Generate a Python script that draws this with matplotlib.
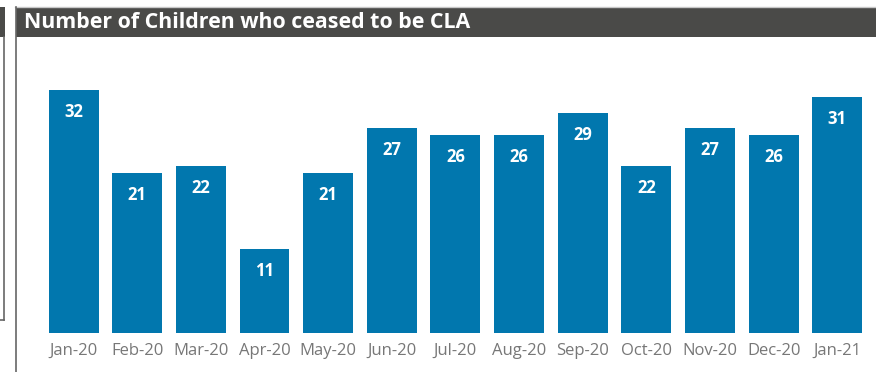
import matplotlib
matplotlib.use("Agg")
import matplotlib.pyplot as plt
from matplotlib.patches import Rectangle
from matplotlib.lines import Line2D

months = ["Jan-20", "Feb-20", "Mar-20", "Apr-20", "May-20", "Jun-20", "Jul-20",
          "Aug-20", "Sep-20", "Oct-20", "Nov-20", "Dec-20", "Jan-21"]
values = [32, 21, 22, 11, 21, 27, 26, 26, 29, 22, 27, 26, 31]
title = "Number of Children who ceased to be CLA"

W, H = 876, 372
fig = plt.figure(figsize=(W / 100, H / 100), dpi=100)
fig.patch.set_facecolor("white")

def fx(px):
    return px / W

def fy(py):
    return 1 - py / H

# neighbouring panel fragment on the left
fig.patches.append(Rectangle((0, fy(37)), fx(4.5), fy(7) - fy(37), transform=fig.transFigure,
                             facecolor="#4a4a48", edgecolor="none"))
fig.lines.append(Line2D([fx(4), fx(4)], [fy(37), fy(320)], transform=fig.transFigure,
                        color="#666666", lw=1.2))
fig.lines.append(Line2D([0, fx(4)], [fy(320), fy(320)], transform=fig.transFigure,
                        color="#666666", lw=1.2))

# chart panel frame
fig.lines.append(Line2D([fx(15), fx(876)], [fy(7), fy(7)], transform=fig.transFigure,
                        color="#c8c8c8", lw=1.0))
fig.lines.append(Line2D([fx(15.5), fx(15.5)], [fy(7), 0], transform=fig.transFigure,
                        color="#666666", lw=1.2))
fig.patches.append(Rectangle((fx(16), fy(37)), fx(876) - fx(16), fy(8) - fy(37),
                             transform=fig.transFigure, facecolor="#4a4a48", edgecolor="none"))
fig.text(fx(24), fy(23), title, color="white", fontsize=15.4, fontweight="bold",
         family=["Open Sans", "DejaVu Sans"], va="center", ha="left")

# axes
left_px, right_px = 41.7, 869.2
bottom_px = 333
ymax = 37
ppu = 7.6
top_px = bottom_px - ymax * ppu
ax = fig.add_axes([fx(left_px), fy(bottom_px), fx(right_px) - fx(left_px), fy(top_px) - fy(bottom_px)])
ax.set_xlim(-0.5, len(months) - 0.5)
ax.set_ylim(0, ymax)
x = list(range(len(months)))
bars = ax.bar(x, values, width=0.785, color="#0177AE")
for xi, v in zip(x, values):
    ax.annotate(str(v), (xi, v), xytext=(0, -22), textcoords="offset pixels",
                ha="center", va="center", color="white", fontsize=12, fontweight="bold",
                family=["Open Sans", "DejaVu Sans"])
ax.set_xticks(x)
ax.set_xticklabels(months, color="#777777", fontsize=12, family=["Open Sans", "DejaVu Sans"])
ax.tick_params(axis="x", length=0, pad=7)
ax.set_yticks([])
for s in ax.spines.values():
    s.set_visible(False)
ax.patch.set_alpha(0)

fig.savefig("out.png", dpi=100)
